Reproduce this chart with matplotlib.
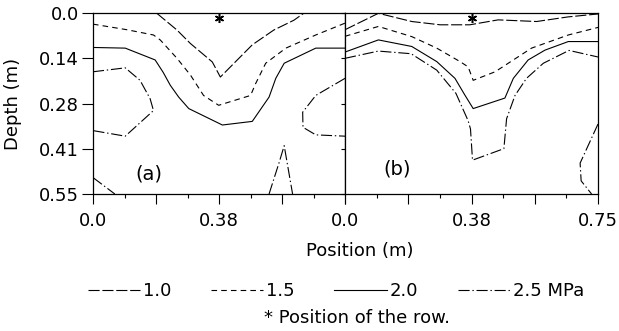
import numpy as np
import matplotlib
matplotlib.use('Agg')
import matplotlib.pyplot as plt
from matplotlib.lines import Line2D

# Data, depth in m, position in m
#####################################################
levels = ['1.0', '1.5', '2.0', '2.5 MPa']
row_pos = 0.375
star_depth = 0.015

# panel (a)
a_10_x = [0.190, 0.250, 0.290, 0.355, 0.379, 0.474, 0.538, 0.598, 0.627]
a_10_y = [0.0, 0.051, 0.092, 0.148, 0.194, 0.096, 0.051, 0.021, 0.0]
a_15_x = [0.0, 0.101, 0.180, 0.200, 0.250, 0.290, 0.329, 0.374, 0.469, 0.484, 0.514, 0.574, 0.663, 0.75]
a_15_y = [0.033, 0.050, 0.066, 0.081, 0.137, 0.188, 0.250, 0.280, 0.250, 0.214, 0.152, 0.106, 0.066, 0.030]
a_20_x = [0.0, 0.096, 0.185, 0.209, 0.230, 0.255, 0.285, 0.385, 0.474, 0.524, 0.544, 0.569, 0.663, 0.75]
a_20_y = [0.104, 0.106, 0.142, 0.180, 0.219, 0.255, 0.290, 0.340, 0.329, 0.255, 0.198, 0.152, 0.106, 0.106]
a_25_segs = [
  ([0.0, 0.096, 0.140, 0.170, 0.180, 0.096, 0.0], [0.178, 0.166, 0.204, 0.260, 0.296, 0.374, 0.357]),
  ([0.75, 0.663, 0.624, 0.625, 0.663, 0.75], [0.198, 0.250, 0.301, 0.347, 0.370, 0.374]),
  ([0.0, 0.065], [0.50, 0.55]),
  ([0.524, 0.554, 0.569, 0.594], [0.55, 0.454, 0.403, 0.55]),
]

# panel (b)
b_10_x = [0.0, 0.099, 0.198, 0.282, 0.370, 0.454, 0.568, 0.661, 0.75]
b_10_y = [0.050, 0.0, 0.025, 0.035, 0.035, 0.020, 0.025, 0.011, 0.002]
b_15_x = [0.0, 0.099, 0.198, 0.272, 0.341, 0.365, 0.380, 0.445, 0.553, 0.662, 0.75]
b_15_y = [0.070, 0.040, 0.071, 0.106, 0.147, 0.163, 0.204, 0.178, 0.106, 0.066, 0.043]
b_20_x = [0.0, 0.099, 0.198, 0.272, 0.326, 0.356, 0.380, 0.474, 0.499, 0.543, 0.593, 0.662, 0.75]
b_20_y = [0.118, 0.081, 0.101, 0.147, 0.198, 0.250, 0.290, 0.258, 0.198, 0.142, 0.112, 0.086, 0.086]
b_25_segs = [
  ([0.0, 0.099, 0.196, 0.272, 0.329, 0.365, 0.372, 0.378, 0.471, 0.479, 0.504, 0.538, 0.588, 0.664, 0.75],
   [0.137, 0.115, 0.123, 0.173, 0.244, 0.327, 0.352, 0.447, 0.412, 0.321, 0.250, 0.198, 0.152, 0.113, 0.133]),
  ([0.75, 0.697, 0.700, 0.731], [0.337, 0.456, 0.510, 0.55]),
]

# Styles
#####################################################
plt.rcParams['font.family'] = 'DejaVu Sans'
plt.rcParams['lines.scale_dashes'] = False
fs = 13
lw = 0.8
styles = [(0, (8, 2)), (0, (4, 3)), '-', (0, (8, 2, 1, 2))]

W, H = 619, 331
fig = plt.figure(figsize=(W/100, H/100), dpi=100)
top, bot = 13.3, 194.0
axa = fig.add_axes([93/W, 1-bot/H, 252/W, (bot-top)/H])
axb = fig.add_axes([345/W, 1-bot/H, 253/W, (bot-top)/H])

panels = [
  (axa, [(a_10_x, a_10_y)], [(a_15_x, a_15_y)], [(a_20_x, a_20_y)], a_25_segs, '(a)', (0.167, 0.49)),
  (axb, [(b_10_x, b_10_y)], [(b_15_x, b_15_y)], [(b_20_x, b_20_y)], b_25_segs, '(b)', (0.156, 0.475)),
]

for ax, s10, s15, s20, s25, lab, labpos in panels:
  for segs, ls in zip([s10, s15, s20, s25], styles):
    for x, y in segs:
      ax.plot(x, y, color='black', lw=lw, linestyle=ls)
  ax.plot([row_pos], [star_depth], marker=(6, 2, 0), ms=6.5, mew=1.1, color='black')
  ax.text(labpos[0], labpos[1], lab, fontsize=14, ha='center', va='center')
  ax.set_xlim(0, 0.75)
  ax.set_ylim(0.55, 0.0)
  ax.set_xticks(np.arange(0, 0.76, 0.1875))
  ax.set_xticks(np.arange(0, 0.76, 0.09375), minor=True)
  ax.tick_params(axis='x', which='major', direction='out', length=7, width=0.8, labelsize=fs, pad=6)
  ax.tick_params(axis='x', which='minor', direction='out', length=3, width=0.8)
  ax.set_yticks([0, 0.1375, 0.275, 0.4125, 0.55])
  for sp in ax.spines.values():
    sp.set_linewidth(0.9)

axa.set_xticklabels(['0.0', '', '0.38', '', ''])
axb.set_xticklabels(['0.0', '', '0.38', '', '0.75'])
axa.set_yticklabels(['0.0', '0.14', '0.28', '0.41', '0.55'])
axa.tick_params(axis='y', direction='out', length=8, width=0.8, labelsize=fs, pad=2)
axb.tick_params(axis='y', direction='out', length=3, width=0.8, labelleft=False)
axa.set_ylabel('Depth (m)', fontsize=fs, labelpad=12)

fig.text(360/W, 1-251/H, 'Position (m)', fontsize=fs, ha='center', va='center')

handles = [Line2D([], [], color='black', lw=lw, linestyle=ls) for ls in styles]
fig.legend(handles, levels, loc='center', bbox_to_anchor=(336/W, 1-291/H), ncol=4,
           frameon=False, fontsize=fs, handlelength=2.9, handletextpad=0.15,
           columnspacing=2.2, borderpad=0)

fig.text(357/W, 1-318/H, '* Position of the row.', fontsize=fs, ha='center', va='center')

fig.savefig('out.png', dpi=100)
